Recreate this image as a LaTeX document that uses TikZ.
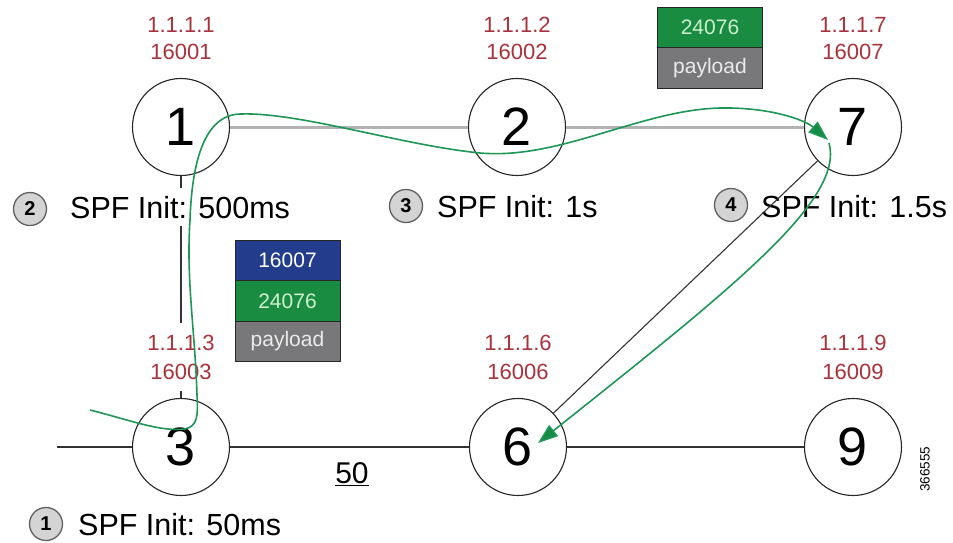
\documentclass[tikz,border=0pt]{standalone}
\usepackage{fontspec}
\setmainfont{Liberation Sans}
\usetikzlibrary{arrows.meta}
\definecolor{lblred}{RGB}{170,50,60}
\definecolor{pathgreen}{RGB}{30,150,85}
\definecolor{arrowgreen}{RGB}{20,140,70}
\definecolor{boxblue}{RGB}{35,60,140}
\definecolor{boxgreen}{RGB}{25,140,65}
\definecolor{boxgray}{RGB}{120,120,122}
\definecolor{linkgray}{RGB}{178,178,178}
\definecolor{badgefill}{RGB}{212,212,212}
\definecolor{badgeline}{RGB}{95,95,95}
\definecolor{lightgreentxt}{RGB}{205,240,205}
\tikzset{
  router/.style={circle, draw=black!85, line width=1.1pt, fill=white, minimum size=97pt, inner sep=0pt, font=\fontsize{54}{54}\selectfont},
  addr/.style={anchor=base, text=lblred, fill=white, inner xsep=2pt, inner ysep=12pt, font=\fontsize{22}{22}\selectfont},
  spf/.style={anchor=base west, fill=white, inner xsep=1pt, inner ysep=8pt, font=\fontsize{30.5}{30.5}\selectfont},
  badge/.style={circle, draw=badgeline, line width=1.3pt, fill=badgefill, minimum size=33pt, inner sep=0pt, font=\fontsize{20}{20}\selectfont\bfseries},
  pkt/.style={draw=black!85, line width=1pt, minimum width=105pt, minimum height=40.5pt, inner sep=0pt, outer sep=0pt, font=\fontsize{21}{21}\selectfont},
  thinlink/.style={draw=black!80, line width=1.1pt},
  graylink/.style={draw=linkgray, line width=3pt},
  greenpath/.style={draw=pathgreen, line width=1.6pt, -{Triangle[length=20pt,width=14pt,fill=arrowgreen]}}
}
\begin{document}
\begin{tikzpicture}[x=1pt,y=-1pt]
\useasboundingbox (0,0) rectangle (953,542);
% routers
\node[router] (n1) at (181,127) {1};
\node[router] (n2) at (517,127) {2};
\node[router] (n7) at (853,127) {7};
\node[router] (n3) at (181,447) {3};
\node[router] (n6) at (518,447) {6};
\node[router] (n9) at (853,447) {9};
\coordinate (w) at (57,447);
% links
\draw[graylink] (n1) -- (n2);
\draw[graylink] (n2) -- (n7);
\draw[thinlink] (n1) -- (n3);
\draw[thinlink] (w) -- (n3);
\draw[thinlink] (n3) -- (n6);
\draw[thinlink] (n6) -- (n9);
% address labels
\node[addr] (a1a) at (181,32) {1.1.1.1};
\node[addr] (a1b) at (181,59) {16001};
\node[addr] (a2a) at (517,32) {1.1.1.2};
\node[addr] (a2b) at (517,59) {16002};
\node[addr] (a7a) at (853,32) {1.1.1.7};
\node[addr] (a7b) at (853,59) {16007};
\node[addr] (a3a) at (181,350) {1.1.1.3};
\node[addr] (a3b) at (181,379) {16003};
\node[addr] (a6a) at (518,350) {1.1.1.6};
\node[addr] (a6b) at (518,379) {16006};
\node[addr] (a9a) at (853,350) {1.1.1.9};
\node[addr] (a9b) at (853,379) {16009};
% SPF labels
\node[badge] (b1) at (46,524) {1};
\node[spf] (s1) at (77,535) {SPF Init: 50ms};
\node[badge] (b2) at (30,209) {2};
\node[spf] (s2) at (69,218) {SPF Init: 500ms};
\node[badge] (b3) at (406,206) {3};
\node[spf] (s3) at (436,217) {SPF Init: 1s};
\node[badge] (b4) at (731,205) {4};
\node[spf] (s4) at (760,217) {SPF Init: 1.5s};
% metric
\node[anchor=base, font=\fontsize{30}{30}\selectfont] (m) at (352,483) {\underline{50}};
% figure id
\node[rotate=90, font=\fontsize{13.5}{13.5}\selectfont] (id) at (925,469) {366555};
% packet stacks
\node[pkt, fill=boxblue, text=white] (p1) at (287.5,260.5) {16007};
\node[pkt, fill=boxgreen, text=lightgreentxt, anchor=north] (p2) at (p1.south) {24076};
\node[pkt, fill=boxgray, text=black!8, anchor=north] (p3) at (p2.south) {payload};
\node[pkt, fill=boxgreen, text=lightgreentxt] (q1) at (710,27.5) {24076};
\node[pkt, fill=boxgray, text=black!8, anchor=north] (q2) at (q1.south) {payload};
% diagonal link over the label
\draw[thinlink] (n7) -- (n6);
% green paths
\coordinate (g0) at (90,410);
\coordinate (g1) at (185,429);
\coordinate (g2) at (197,395);
\coordinate (g3) at (190,220);
\coordinate (g4) at (240,114);
\coordinate (g5) at (480,153);
\coordinate (g6) at (720,108);
\coordinate (g7) at (828,140);
\draw[greenpath] (g0) .. controls (130,420) and (160,432) .. (g1)
  .. controls (198,426) and (198,415) .. (g2)
  .. controls (195,330) and (186,280) .. (g3)
  .. controls (192,160) and (205,115) .. (g4)
  .. controls (300,112) and (400,145) .. (g5)
  .. controls (560,160) and (640,110) .. (g6)
  .. controls (770,107) and (805,120) .. (g7);
\coordinate (h0) at (829,143);
\coordinate (h1) at (538,443);
\draw[greenpath] (h0) .. controls (845,200) and (730,290) .. (h1);
\end{tikzpicture}
\end{document}
